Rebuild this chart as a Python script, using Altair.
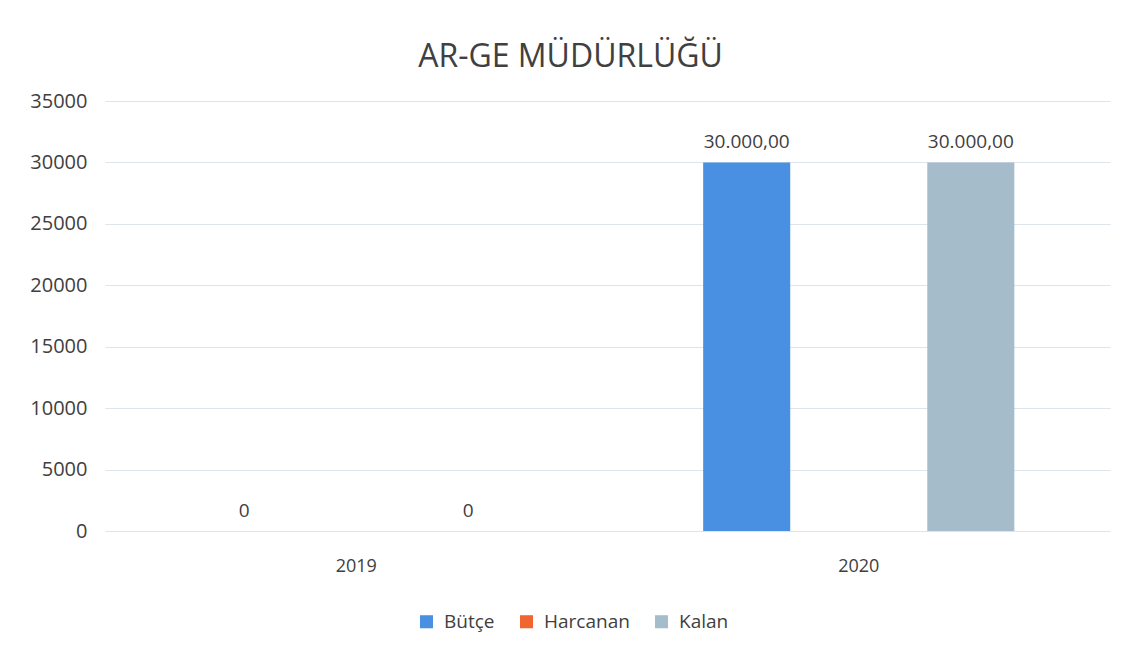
import altair as alt
import pandas as pd

years = ["2019", "2020"]
series = ["Bütçe", "Harcanan", "Kalan"]
butce = [0, 30000]
harcanan = [None, None]
kalan = [0, 30000]
butce_labels = ["0", "30.000,00"]
harcanan_labels = ["", ""]
kalan_labels = ["0", "30.000,00"]
colors = ["#4a90e2", "#f06530", "#a5bccb"]
y_ticks = [0, 5000, 10000, 15000, 20000, 25000, 30000, 35000]

rows = []
for name, vals, labs in [("Bütçe", butce, butce_labels),
                         ("Harcanan", harcanan, harcanan_labels),
                         ("Kalan", kalan, kalan_labels)]:
    for yr, v, lb in zip(years, vals, labs):
        if v is not None:
            rows.append({"Yıl": yr, "Seri": name, "Değer": v, "Etiket": lb})
df = pd.DataFrame(rows)

FONT = "Open Sans"

x_enc = alt.X("Yıl:N", sort=years, title=None,
              scale=alt.Scale(paddingInner=0.331, paddingOuter=0.1655),
              axis=alt.Axis(labelAngle=0, labelFontSize=18, labelColor="#404040",
                            labelPadding=26, ticks=False, domain=False, grid=False,
                            labelFont=FONT))
xoff = alt.XOffset("Seri:N", sort=series,
                   scale=alt.Scale(domain=series, paddingInner=0.223, paddingOuter=0.1115))
y_enc = alt.Y("Değer:Q", title=None,
              scale=alt.Scale(domain=[0, 35000], nice=False),
              axis=alt.Axis(values=y_ticks, format="d", labelFontSize=20,
                            labelColor="#404040", labelPadding=18, ticks=False,
                            domain=False, gridColor="#dce4ec", gridWidth=1,
                            labelFont=FONT))

bars = alt.Chart(df).mark_bar().encode(
    x=x_enc, xOffset=xoff, y=y_enc,
    color=alt.Color("Seri:N", sort=series,
                    scale=alt.Scale(domain=series, range=colors),
                    legend=alt.Legend(title=None, orient="none", direction="horizontal",
                                      legendX=312, legendY=511, symbolType="square",
                                      symbolSize=170, symbolStrokeWidth=0,
                                      labelFontSize=19, labelColor="#404040",
                                      labelFont=FONT, columnPadding=22,
                                      symbolOffset=0, labelOffset=8))
)

labels = alt.Chart(df).mark_text(baseline="bottom", dy=-10, fontSize=19,
                                 color="#404040", font=FONT).encode(
    x=alt.X("Yıl:N", sort=years), xOffset=alt.XOffset("Seri:N", sort=series),
    y="Değer:Q", text="Etiket:N"
)

chart = (bars + labels).properties(
    width=1005, height=430,
    title=alt.TitleParams("AR-GE MÜDÜRLÜĞÜ", fontSize=32, font=FONT,
                          fontWeight="normal", color="#404040", offset=17,
                          anchor="middle", dx=-37),
    padding={"left": 97, "top": 93, "right": 17, "bottom": 120},
    autosize=alt.AutoSizeParams(type="none"),
    background="white",
).configure_view(stroke=None)

chart.save("out.html", embed_options={"renderer": "svg", "actions": False})
